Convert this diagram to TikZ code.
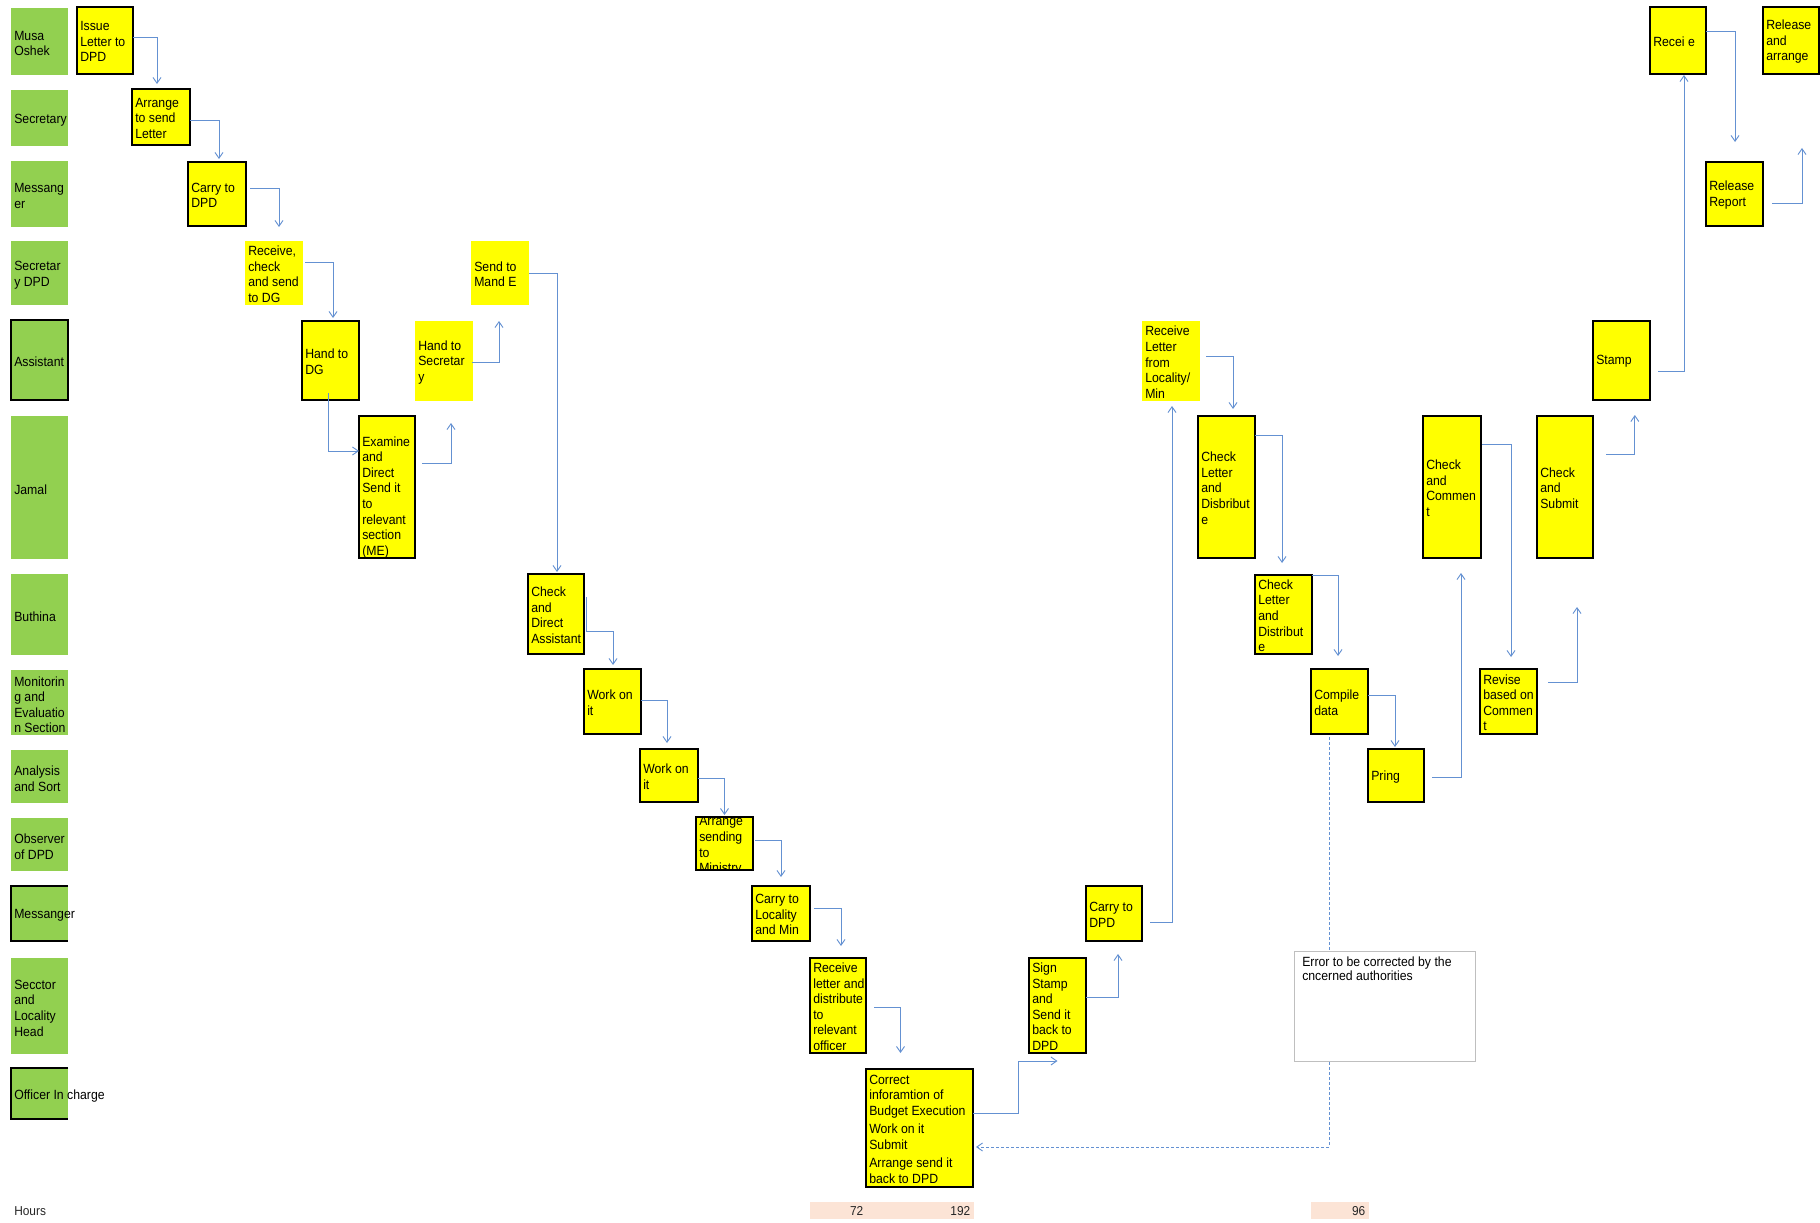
\documentclass[tikz,border=0pt]{standalone}
\usepackage{fontspec}
\setmainfont{Liberation Sans}[FakeStretch=0.92]
\usetikzlibrary{arrows.meta}

\definecolor{lanegreen}{HTML}{92D050}
\definecolor{taskyellow}{HTML}{FFFF00}
\definecolor{flowblue}{RGB}{100,145,210}
\definecolor{hourpeach}{HTML}{FCE4D6}
\definecolor{notegray}{HTML}{BFBFBF}

% swim-lane header: name, top, height, extra style, caption
\newcommand\lanebox[5]{%
  \node[lane,#4,minimum height=#3*0.75pt] (#1) at (11,#2) {};
  \node[lanetext] (#1-t) at ([xshift=2.25pt]#1.west) {#5};
}
% activity box: name, x, y, width, height, style, caption
\newcommand\taskbox[7]{%
  \node[#6,minimum width=#4*0.75pt,minimum height=#5*0.75pt] (#1) at (#2,#3) {};
  \node[tasktext] (#1-t) at ([xshift=2.25pt]#1.west) {#7};
}

\begin{document}
\begin{tikzpicture}[x=0.75pt,y=-0.75pt,
  lane/.style={fill=lanegreen,anchor=north west,minimum width=42.75pt,inner sep=0pt,outer sep=0pt},
  laneedge/.style={draw=black,line width=1pt},
  lanetext/.style={font=\fontsize{10}{11.7}\selectfont,align=left,inner sep=0pt,anchor=west,yshift=-1.6pt},
  task/.style={fill=taskyellow,draw=black,line width=1pt,anchor=north west,inner sep=0pt,outer sep=0pt},
  plain/.style={fill=taskyellow,anchor=north west,inner sep=0pt,outer sep=0pt},
  tasktext/.style={font=\fontsize{10}{11.7}\selectfont,align=left,inner sep=0pt,anchor=west,yshift=-0.9pt},
  flow/.style={draw=flowblue,line width=0.7pt,-{Straight Barb[length=4.3pt,width=6pt]}},
  errflow/.style={flow,dash pattern=on 2.25pt off 1.5pt},
  note/.style={fill=white,draw=notegray,line width=0.8pt,anchor=north west,inner sep=0pt},
  notetext/.style={font=\fontsize{10}{10.3}\selectfont,align=left,inner sep=0pt,anchor=north west},
  hourcell/.style={fill=hourpeach,anchor=north west,minimum height=12.75pt,inner sep=0pt},
  hourtext/.style={font=\fontsize{9.7}{11}\selectfont,text=black!85,inner sep=0pt}]
\useasboundingbox (0,0) rectangle (1820,1223);

% ---------- lanes ----------
\lanebox{musa}{8}{67}{}{Musa\\Oshek}
\lanebox{secr}{90}{56}{}{Secretary}
\lanebox{msgA}{161}{66}{}{Messang\\er}
\lanebox{secdpd}{241}{64}{}{Secretar\\y DPD}
\lanebox{assist}{320}{80}{draw=black,line width=1pt}{Assistant}
\lanebox{jamal}{416}{143}{}{Jamal}
\lanebox{buthina}{574}{81}{}{Buthina}
\lanebox{mesec}{670}{65}{}{Monitorin\\g and\\Evaluatio\\n Section}
\lanebox{anasort}{750}{53}{}{Analysis\\and Sort}
\lanebox{observer}{818}{53}{}{Observer\\of DPD}
\lanebox{msgB}{886}{55}{}{Messanger}
\lanebox{sector}{958}{96}{}{Secctor\\and\\Locality\\Head}
\lanebox{officer}{1068}{51}{}{Officer In charge}
\draw[laneedge] (msgB.north east) -- (msgB.north west) -- (msgB.south west) -- (msgB.south east);
\draw[laneedge] (officer.north east) -- (officer.north west) -- (officer.south west) -- (officer.south east);

% ---------- activities ----------
\taskbox{issue}{77}{7}{56}{67}{task}{Issue\\Letter to\\DPD}
\taskbox{arrange}{132}{89}{58}{56}{task}{Arrange\\to send\\Letter}
\taskbox{carryA}{188}{162}{58}{64}{task}{Carry to\\DPD}
\taskbox{recvchk}{245}{241}{58}{64}{plain}{Receive,\\check\\and send\\to DG}
\taskbox{handdg}{302}{321}{57}{79}{task}{Hand to\\DG}
\node[task,minimum width=42pt,minimum height=106.5pt] (examine) at (359,416) {};
\node[tasktext] (examine-t) at ([xshift=2.25pt,yshift=-6.75pt]examine.west)
  {Examine\\and\\Direct\\Send it\\to\\relevant\\section\\(ME)};
\taskbox{handsec}{415}{321}{58}{80}{plain}{Hand to\\Secretar\\y}
\taskbox{sendme}{471}{241}{58}{64}{plain}{Send to\\Mand E}
\taskbox{chkdir}{528}{574}{56}{80}{task}{Check\\and\\Direct\\Assistant}
\taskbox{workA}{584}{669}{57}{65}{task}{Work on\\it}
\taskbox{workB}{640}{749}{58}{53}{task}{Work on\\it}
\node[task,minimum width=42.75pt,minimum height=39.75pt] (arrmin) at (696,817) {};
\begin{scope}
  \clip (arrmin.north west) rectangle (arrmin.south east);
  \node[tasktext] (arrmin-t) at ([xshift=2.25pt,yshift=-1.1pt]arrmin.west) {Arrange\\sending\\to\\Ministry};
\end{scope}
\taskbox{carryloc}{752}{886}{58}{55}{task}{Carry to\\Locality\\and Min}
\taskbox{recvdist}{810}{958}{56}{95}{task}{Receive\\letter and\\distribute\\to\\relevant\\officer}
\taskbox{correct}{866}{1069}{107}{118}{task}{Correct\\inforamtion of\\Budget Execution\\[2pt]Work on it\\Submit\\[2pt]Arrange send it\\back to DPD}
\taskbox{sign}{1029}{958}{57}{95}{task}{Sign\\Stamp\\and\\Send it\\back to\\DPD}
\taskbox{carryB}{1086}{886}{56}{55}{task}{Carry to\\DPD}
\taskbox{recvloc}{1142}{321}{58}{80}{plain}{Receive\\Letter\\from\\Locality/\\Min}
\taskbox{chkdisb}{1198}{416}{57}{142}{task}{Check\\Letter\\and\\Disbribut\\e}
\taskbox{chkdist}{1255}{575}{57}{79}{task}{Check\\Letter\\and\\Distribut\\e}
\taskbox{compile}{1311}{669}{57}{65}{task}{Compile\\data}
\taskbox{pring}{1368}{749}{56}{53}{task}{Pring}
\taskbox{chkcom}{1423}{416}{58}{142}{task}{Check\\and\\Commen\\t}
\taskbox{revise}{1480}{669}{57}{65}{task}{Revise\\based on\\Commen\\t}
\taskbox{chksub}{1537}{416}{56}{142}{task}{Check\\and\\Submit}
\taskbox{stamp}{1593}{321}{57}{79}{task}{Stamp}
\taskbox{recei}{1650}{7}{56}{67}{task}{Recei e}
\taskbox{relrep}{1706}{162}{57}{64}{task}{Release\\Report}
\taskbox{relarr}{1763}{7}{56}{67}{task}{Release\\and\\arrange}

% ---------- flow connectors ----------
\draw[flow] ([yshift=2.6pt]issue.east) -| ([xshift=-3pt,yshift=3.75pt]arrange.north);
\draw[flow] ([yshift=-2.25pt]arrange.east) -| ([xshift=1.5pt,yshift=2.25pt]carryA.north);
\draw[flow] ([xshift=3pt,yshift=4.5pt]carryA.east) -| ([xshift=3.75pt,yshift=10.5pt]recvchk.north);
\draw[flow] ([xshift=1.5pt,yshift=8.25pt]recvchk.east) -| ([xshift=1.9pt,yshift=2.25pt]handdg.north);
\draw[flow] ([xshift=-1.9pt,yshift=5.25pt]handdg.south) |- ([yshift=27pt]examine.west);
\draw[flow] ([xshift=5.25pt,yshift=18pt]examine.east) -| ([xshift=5.25pt,yshift=-16.5pt]handsec.south);
\draw[flow] ([xshift=-0.75pt,yshift=-0.75pt]handsec.east) -| ([xshift=-0.75pt,yshift=-12pt]sendme.south);
\draw[flow] (sendme.east) -| ([xshift=0.75pt,yshift=1.5pt]chkdir.north);
\draw[flow] ([xshift=1.5pt,yshift=12.75pt]chkdir.east) -- ++(0,34) -| ([xshift=0.4pt,yshift=3pt]workA.north);
\draw[flow] ([yshift=1.1pt]workA.east) -| ([xshift=-1.5pt,yshift=4.5pt]workB.north);
\draw[flow] ([yshift=-1.9pt]workB.east) -| ([yshift=1.5pt]arrmin.north);
\draw[flow] ([xshift=1.5pt,yshift=2.6pt]arrmin.east) -| ([yshift=6.75pt]carryloc.north);
\draw[flow] ([xshift=3pt,yshift=4.1pt]carryloc.east) -| ([xshift=2.25pt,yshift=9pt]recvdist.north);
\draw[flow] ([xshift=6pt,yshift=-1.1pt]recvdist.east) -| ([xshift=-14.25pt,yshift=12pt]correct.north);
\draw[flow] ([yshift=11.25pt]correct.east) -- ++(45,0) |- ([yshift=-6pt]sign.south);
\draw[flow] ([yshift=6.4pt]sign.east) -| ([xshift=3pt,yshift=-9.75pt]carryB.south);
\draw[flow] ([xshift=6pt,yshift=-6.4pt]carryB.east) -| ([xshift=0.75pt,yshift=-3.75pt]recvloc.south);
\draw[flow] ([xshift=4.5pt,yshift=3.75pt]recvloc.east) -| ([xshift=4.9pt,yshift=5.25pt]chkdisb.north);
\draw[flow] ([yshift=39pt]chkdisb.east) -| ([xshift=-1.1pt,yshift=9pt]chkdist.north);
\draw[flow] ([yshift=29.6pt]chkdist.east) -| ([xshift=-1.1pt,yshift=9.75pt]compile.north);
\draw[flow] ([yshift=4.9pt]compile.east) -| ([xshift=-0.75pt,yshift=1.5pt]pring.north);
\draw[flow] ([xshift=6pt,yshift=-1.1pt]pring.east) -| ([xshift=6.75pt,yshift=-11.25pt]chkcom.south);
\draw[flow] ([xshift=0.75pt,yshift=32.25pt]chkcom.east) -| ([xshift=1.9pt,yshift=9pt]revise.north);
\draw[flow] ([xshift=8.25pt,yshift=14.6pt]revise.east) -| ([xshift=9pt,yshift=-36.75pt]chksub.south);
\draw[flow] ([xshift=9.75pt,yshift=24.75pt]chksub.east) -| ([xshift=10pt,yshift=-11.25pt]stamp.south);
\draw[flow] ([xshift=6pt,yshift=-7.9pt]stamp.east) -| ([xshift=4.5pt,yshift=-0.75pt]recei.south);
\draw[flow] ([yshift=7.1pt]recei.east) -| ([xshift=0.4pt,yshift=15pt]relrep.north);
\draw[flow] ([xshift=6.75pt,yshift=-6.75pt]relrep.east) -| ([xshift=8.25pt,yshift=-55.5pt]relarr.south);

% ---------- error loop back to the officer in charge ----------
\draw[errflow] ([xshift=-7.9pt,yshift=-2.25pt]compile.south) |- ([xshift=2.25pt,yshift=-14.25pt]correct.east);
\node[note,minimum width=135.75pt,minimum height=82.5pt] (errnote) at (1294,951) {};
\node[notetext] (errnote-t) at ([xshift=6pt,yshift=-4.5pt]errnote.north west)
  {Error to be corrected by the\\cncerned authorities};

% ---------- hours row ----------
\node[hourtext,anchor=west] (hours) at (14,1211) {Hours};
\node[hourcell,minimum width=42pt] (hA) at (810,1202) {};
\node[hourcell,minimum width=81pt] (hB) at (866,1202) {};
\node[hourcell,minimum width=43.5pt] (hC) at (1311,1202) {};
\node[hourtext,anchor=east] (hA-t) at ([xshift=-2.25pt]hA.east) {72};
\node[hourtext,anchor=east] (hB-t) at ([xshift=-3pt]hB.east) {192};
\node[hourtext,anchor=east] (hC-t) at ([xshift=-3pt]hC.east) {96};
\end{tikzpicture}
\end{document}
